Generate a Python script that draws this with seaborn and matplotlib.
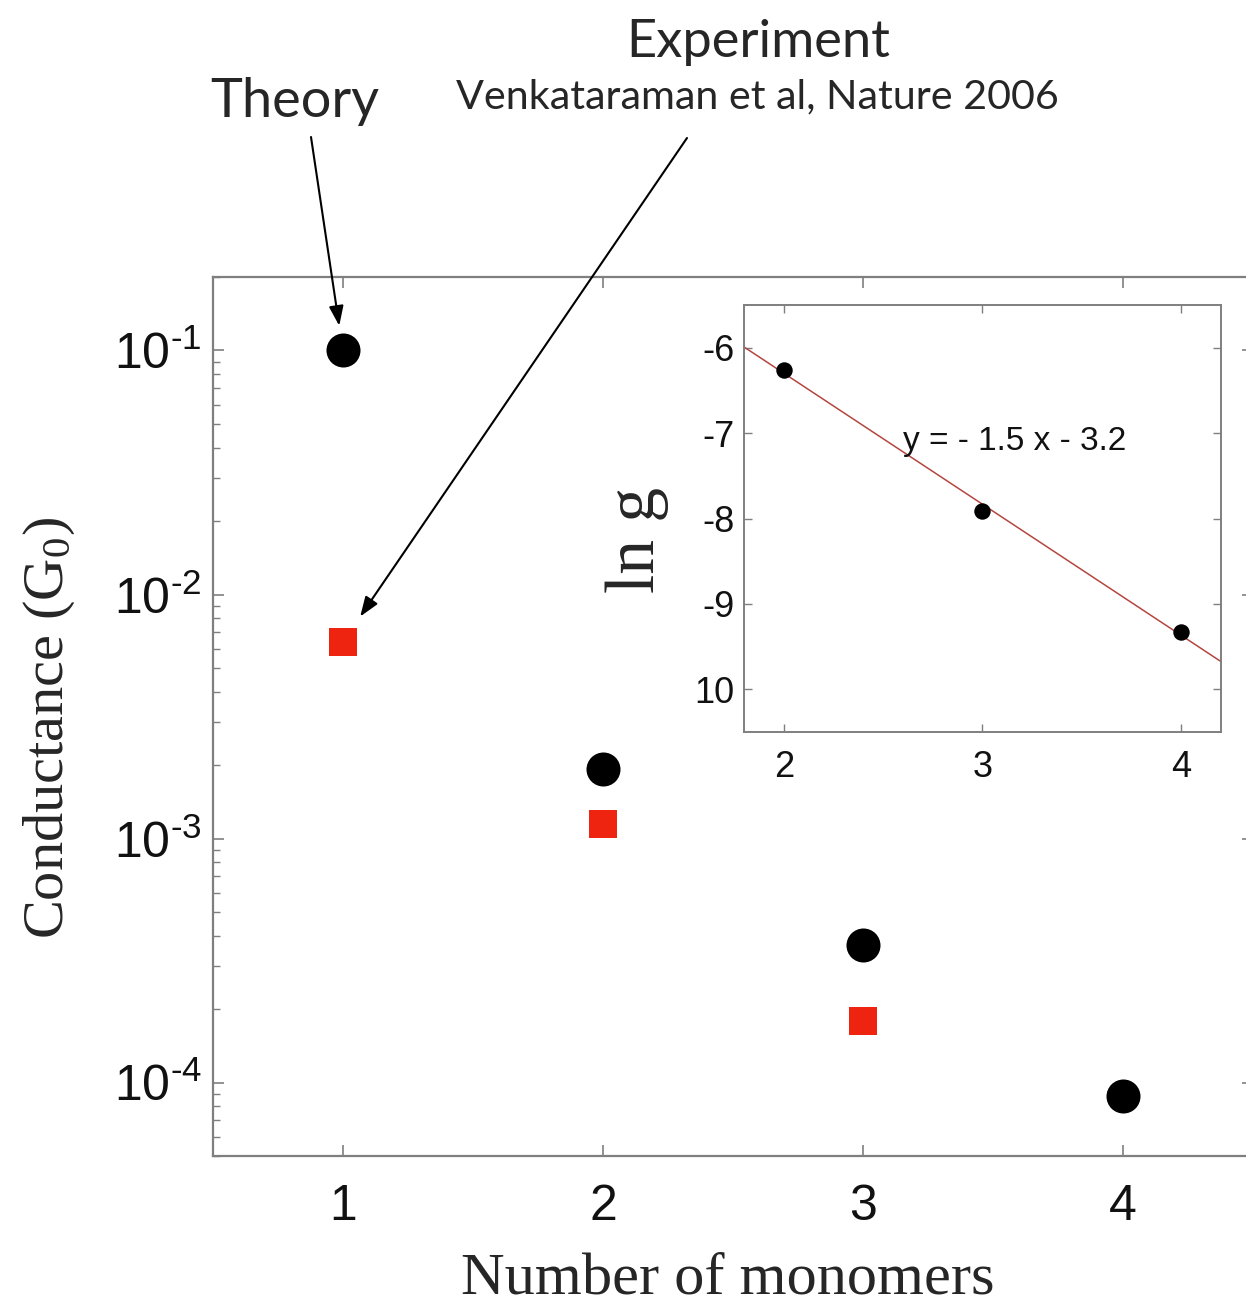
import numpy as np
import pandas as pd
import matplotlib
matplotlib.use("Agg")
import matplotlib.pyplot as plt
import seaborn as sns
from matplotlib.ticker import LogLocator, FuncFormatter, NullFormatter, FixedLocator, FixedFormatter

# Conductance per number of monomers (units of G0)
monomers_theory = [1, 2, 3, 4]
conductance_theory = [1.0e-1, 1.92e-3, 3.66e-4, 8.8e-5]
monomers_experiment = [1, 2, 3]
conductance_experiment = [6.4e-3, 1.15e-3, 1.78e-4]

# Inset: natural log of the theoretical conductance
inset_monomers = [2, 3, 4]
inset_ln_g = [-6.26, -7.91, -9.33]

x_ticks = [1, 2, 3, 4]
inset_x_ticks = [2, 3, 4]
inset_y_ticks = [-6, -7, -8, -9, -10]
inset_y_labels = ["-6", "-7", "-8", "-9", "10"]

sns.set_theme(style="ticks")
plt.rcParams["font.family"] = ["Liberation Sans", "DejaVu Sans"]
plt.rcParams["mathtext.fontset"] = "custom"
plt.rcParams["mathtext.rm"] = "Liberation Serif"
plt.rcParams["mathtext.default"] = "regular"

SPINE = "#7f7f7f"
RED = "#ef2410"
SERIF = ["Liberation Serif", "DejaVu Serif"]
HUMANIST = ["Lato", "DejaVu Sans"]

theory = pd.DataFrame({"n": monomers_theory, "g": conductance_theory})
experiment = pd.DataFrame({"n": monomers_experiment, "g": conductance_experiment})
inset = pd.DataFrame({"n": inset_monomers, "lng": inset_ln_g})


def decade_label(value, pos):
    """Power-of-ten label written with a plain hyphen in the exponent."""
    exponent = int(round(np.log10(value)))
    sign = "\u2010" if exponent < 0 else ""
    return "$\\mathregular{10^{%s%d}}$" % (sign, abs(exponent))


fig = plt.figure(figsize=(12.46, 13.08), dpi=100)

# ---- main panel -------------------------------------------------------
ax = fig.add_axes([0.1709, 0.1162, 0.8347, 0.672])
sns.scatterplot(data=theory, x="n", y="g", marker="o", s=600, color="black",
                linewidth=0, ax=ax, zorder=3)
sns.scatterplot(data=experiment, x="n", y="g", marker="s", s=380, color=RED,
                linewidth=0, ax=ax, zorder=3)
ax.set_yscale("log")
ax.set_xlim(0.5, 4.5)
ax.set_ylim(5e-5, 0.2)
ax.xaxis.set_major_locator(FixedLocator(x_ticks))
ax.yaxis.set_major_locator(LogLocator(base=10, numticks=12))
ax.yaxis.set_major_formatter(FuncFormatter(decade_label))
ax.yaxis.set_minor_locator(LogLocator(base=10, subs=np.arange(2, 10), numticks=12))
ax.yaxis.set_minor_formatter(NullFormatter())
for side in ["left", "right", "top", "bottom"]:
    ax.spines[side].set_visible(True)
    ax.spines[side].set_color(SPINE)
    ax.spines[side].set_linewidth(1.6)
ax.tick_params(axis="both", which="major", direction="in", length=8, width=1.2,
               color=SPINE, labelsize=36, labelcolor="#111111",
               top=True, right=True)
ax.tick_params(axis="x", which="major", pad=20)
ax.tick_params(axis="y", which="major", pad=8)
ax.tick_params(axis="y", which="minor", direction="in", length=5, width=1.0,
               color=SPINE, left=True, right=True)

ax.set_xlabel("Number of monomers", fontsize=43.5, family=SERIF, va="center")
ax.xaxis.set_label_coords(0.495, -0.141)
ax.set_ylabel(r"Conductance (G$\mathregular{_0}$)", fontsize=42, family=SERIF,
              va="center")
ax.yaxis.set_label_coords(-0.1577, 0.487)

# ---- annotations ------------------------------------------------------
fig.text(295 / 1246, 1 - 101 / 1308, "Theory", ha="center", va="center",
         fontsize=39, family=HUMANIST)
fig.text(758 / 1246, 1 - 43 / 1308, "Experiment", ha="center", va="center",
         fontsize=37.7, family=HUMANIST)
fig.text(757 / 1246, 1 - 97 / 1308, "Venkataraman et al, Nature 2006",
         ha="center", va="center", fontsize=29.7, family=HUMANIST)

arrow = dict(arrowstyle="-|>,head_length=0.6,head_width=0.22", color="black",
             lw=1.5, mutation_scale=20, shrinkA=0)
ax.annotate("", xy=(monomers_theory[0], conductance_theory[0]), xycoords="data",
            xytext=(311, 1308 - 137), textcoords="figure pixels",
            arrowprops=dict(arrow, shrinkB=18), annotation_clip=False)
ax.annotate("", xy=(monomers_experiment[0], conductance_experiment[0]),
            xycoords="data", xytext=(687, 1308 - 138), textcoords="figure pixels",
            arrowprops=dict(arrow, shrinkB=22), annotation_clip=False)

# ---- inset: ln g versus number of monomers ----------------------------
ax_in = fig.add_axes([744 / 1246, 1 - 732 / 1308, 477 / 1246, 427 / 1308])
ax_in.set_xlim(1.8, 4.2)
ax_in.set_ylim(-10.5, -5.5)
slope, intercept = np.polyfit(inset["n"], inset["lng"], 1)
fit_x = np.array(ax_in.get_xlim())
sns.lineplot(x=fit_x, y=slope * fit_x + intercept, color="#b4463f", lw=1.1,
             ax=ax_in, zorder=2)
sns.scatterplot(data=inset, x="n", y="lng", marker="o", s=140, color="black",
                linewidth=0, ax=ax_in, zorder=3)
ax_in.text(2.6, -7.1, f"y = - {abs(slope):.1f} x - {abs(intercept):.1f}",
           ha="left", va="center", fontsize=24, color="#111111")
ax_in.xaxis.set_major_locator(FixedLocator(inset_x_ticks))
ax_in.yaxis.set_major_locator(FixedLocator(inset_y_ticks))
ax_in.yaxis.set_major_formatter(FixedFormatter(inset_y_labels))
for side in ["left", "right", "top", "bottom"]:
    ax_in.spines[side].set_visible(True)
    ax_in.spines[side].set_color(SPINE)
    ax_in.spines[side].set_linewidth(1.4)
ax_in.tick_params(axis="both", which="major", direction="in", length=6, width=1.0,
                  color=SPINE, labelsize=26, labelcolor="#111111",
                  top=True, right=True)
ax_in.tick_params(axis="x", pad=13)
ax_in.tick_params(axis="y", pad=7)
ax_in.set_xlabel("")
ax_in.set_ylabel("ln g", fontsize=50, family=SERIF, va="center")
ax_in.yaxis.set_label_coords(-0.224, 0.45)

fig.savefig("out.png", dpi=100)
